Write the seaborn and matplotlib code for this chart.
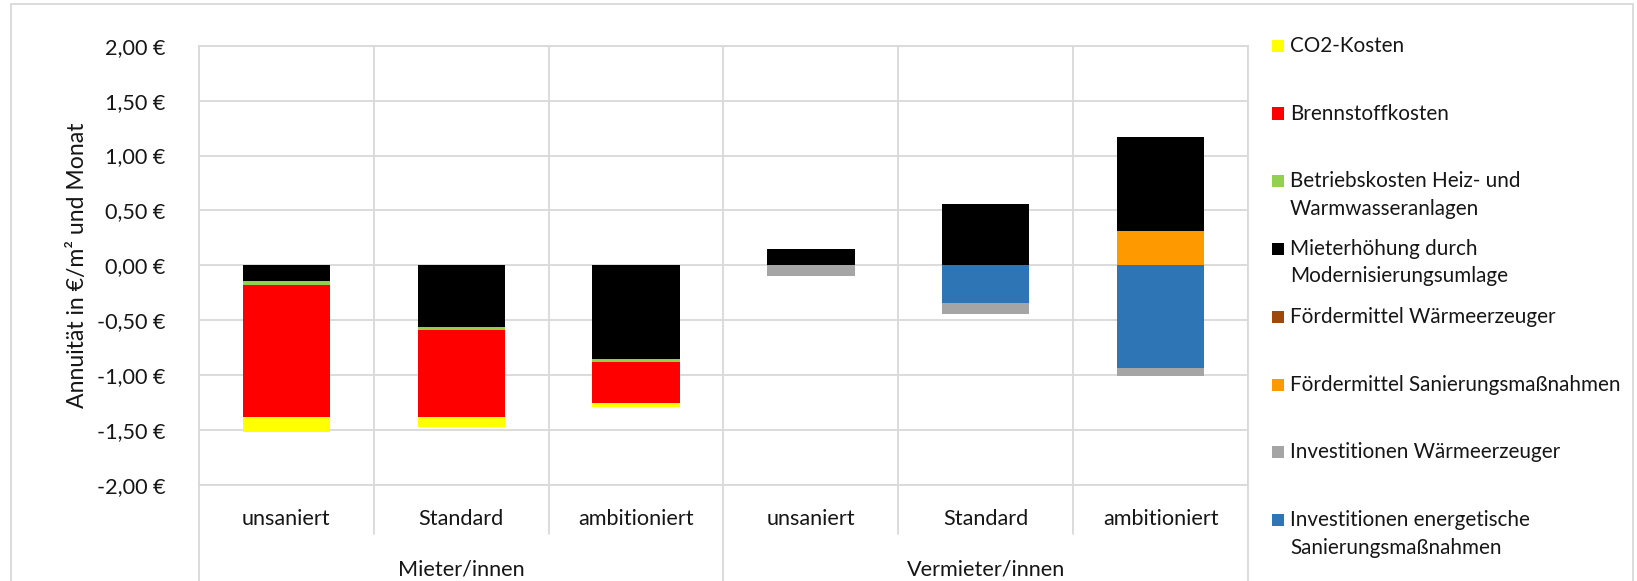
import numpy as np
import pandas as pd
import matplotlib
matplotlib.use("Agg")
import matplotlib.pyplot as plt
import matplotlib.transforms as mtransforms
from matplotlib.patches import Rectangle
import seaborn as sns

# ---- data -------------------------------------------------------------
categories = ["unsaniert", "Standard", "ambitioniert",
              "unsaniert", "Standard", "ambitioniert"]
groups = ["Mieter/innen", "Vermieter/innen"]
group_sizes = [3, 3]

# Annuität in €/m² und Monat, one value per bar
invest_sanierung = [0.0, 0.0, 0.0, 0.0, -0.343, -0.938]
invest_waermeerzeuger = [0.0, 0.0, 0.0, -0.10, -0.103, -0.07]
foerder_sanierung = [0.0, 0.0, 0.0, 0.0, 0.0, 0.312]
foerder_waermeerzeuger = [0.0, 0.0, 0.0, 0.0, 0.0, 0.0]
mieterhoehung = [-0.145, -0.56, -0.85, 0.145, 0.56, 0.854]
betriebskosten = [-0.03, -0.025, -0.027, 0.0, 0.0, 0.0]
brennstoffkosten = [-1.209, -0.795, -0.376, 0.0, 0.0, 0.0]
co2_kosten = [-0.134, -0.09, -0.034, 0.0, 0.0, 0.0]

# stacking order: first series sits next to the zero line
series_values = [invest_sanierung, invest_waermeerzeuger, foerder_sanierung,
                 foerder_waermeerzeuger, mieterhoehung, betriebskosten,
                 brennstoffkosten, co2_kosten]
series_labels = ["Investitionen energetische\nSanierungsmaßnahmen",
                 "Investitionen Wärmeerzeuger",
                 "Fördermittel Sanierungsmaßnahmen",
                 "Fördermittel Wärmeerzeuger",
                 "Mieterhöhung durch\nModernisierungsumlage",
                 "Betriebskosten Heiz- und\nWarmwasseranlagen",
                 "Brennstoffkosten",
                 "CO2-Kosten"]
series_colors = ["#2E75B6", "#A5A5A5", "#FF9900", "#9E480E",
                 "#000000", "#92D050", "#FF0000", "#FFFF00"]

y_ticks = [-2.0, -1.5, -1.0, -0.5, 0.0, 0.5, 1.0, 1.5, 2.0]

# ---- style ------------------------------------------------------------
sns.set_theme(style="white")
plt.rcParams["font.family"] = ["Lato", "DejaVu Sans"]
TEXT = "#161616"
GRID = "#D9D9D9"
FS = 15.6
FS_LEG = 14.9

W, H = 1637, 581
fig = plt.figure(figsize=(W / 100, H / 100), dpi=100)
ax_left, ax_right, ax_top, ax_bottom = 199, 1248, 45.7, 485
ax = fig.add_axes([ax_left / W, (H - ax_bottom) / H,
                   (ax_right - ax_left) / W, (ax_bottom - ax_top) / H])

# ---- stacked bars (cumulative layers, outermost drawn first) ----------
bar_keys = [f"{i}" for i in range(len(categories))]
vals = np.array(series_values)
pos_cum = np.cumsum(np.clip(vals, 0, None), axis=0)
neg_cum = np.cumsum(np.clip(vals, None, 0), axis=0)

for k in reversed(range(len(series_values))):
    for cum in (pos_cum[k], neg_cum[k]):
        df = pd.DataFrame({"bar": bar_keys, "value": cum})
        sns.barplot(data=df, x="bar", y="value", order=bar_keys,
                    color=series_colors[k], saturation=1, width=0.5,
                    errorbar=None, linewidth=0, edgecolor="none", ax=ax)

# ---- axes -------------------------------------------------------------
n = len(categories)
ax.set_xlim(-0.5, n - 0.5)
ax.set_ylim(-2.0, 2.0)
ax.set_yticks(y_ticks)
ax.set_yticklabels([f"{v:.2f} €".replace(".", ",") for v in y_ticks],
                   fontsize=FS, color=TEXT)
ax.tick_params(axis="y", length=0, pad=24)
ax.set_xticks([])
ax.set_xlabel("")
ax.set_ylabel("")
ax.set_axisbelow(True)
ax.yaxis.grid(True, color=GRID, linewidth=1.3)
for b in np.arange(-0.5, n, 1.0):
    ax.axvline(b, color=GRID, linewidth=1.3, zorder=0.5)
for s in ax.spines.values():
    s.set_color(GRID)
    s.set_linewidth(1.3)

# category table below the plot
blend = mtransforms.blended_transform_factory(ax.transData, ax.transAxes)
ax_h = ax_bottom - ax_top
for i, cat in enumerate(categories):
    ax.text(i, (ax_bottom - 519) / ax_h, cat, transform=blend,
            ha="center", va="center", fontsize=FS, color=TEXT)
sub_end = (ax_bottom - 534) / ax_h
start = 0
boundaries = [-0.5]
for gname, gsize in zip(groups, group_sizes):
    ax.text(start + (gsize - 1) / 2, (ax_bottom - 569) / ax_h, gname,
            transform=blend, ha="center", va="center", fontsize=FS, color=TEXT)
    for j in range(1, gsize):
        x = start + j - 0.5
        ax.plot([x, x], [0, sub_end], transform=blend, color=GRID,
                linewidth=1.3, clip_on=False)
    start += gsize
    boundaries.append(start - 0.5)
for x in boundaries:
    ax.plot([x, x], [0, -0.4], transform=blend, color=GRID,
            linewidth=1.3, clip_on=False)

fig.text(78 / W, (H - 265) / H, "Annuität in €/m² und Monat", rotation=90,
         ha="center", va="center", fontsize=FS * 1.06, color=TEXT)

# ---- legend (top to bottom: reverse stacking order) -------------------
leg_y0, leg_step, line_step = 45.7, 67.8, 27.3
for i, k in enumerate(reversed(range(len(series_values)))):
    yc = leg_y0 + i * leg_step
    fig.patches.append(Rectangle((1272 / W, (H - yc - 6) / H), 12 / W, 12 / H,
                                 transform=fig.transFigure,
                                 facecolor=series_colors[k], edgecolor="none"))
    for j, line in enumerate(series_labels[k].split("\n")):
        fig.text(1290 / W, (H - yc - j * line_step) / H, line,
                 ha="left", va="center", fontsize=FS_LEG, color=TEXT)

# chart frame
fig.patches.append(Rectangle((11 / W, -0.1), (1633 - 11) / W, (H - 4) / H + 0.1,
                             transform=fig.transFigure, fill=False,
                             edgecolor=GRID, linewidth=1.3))

fig.savefig("out.png", dpi=100, facecolor="white")
